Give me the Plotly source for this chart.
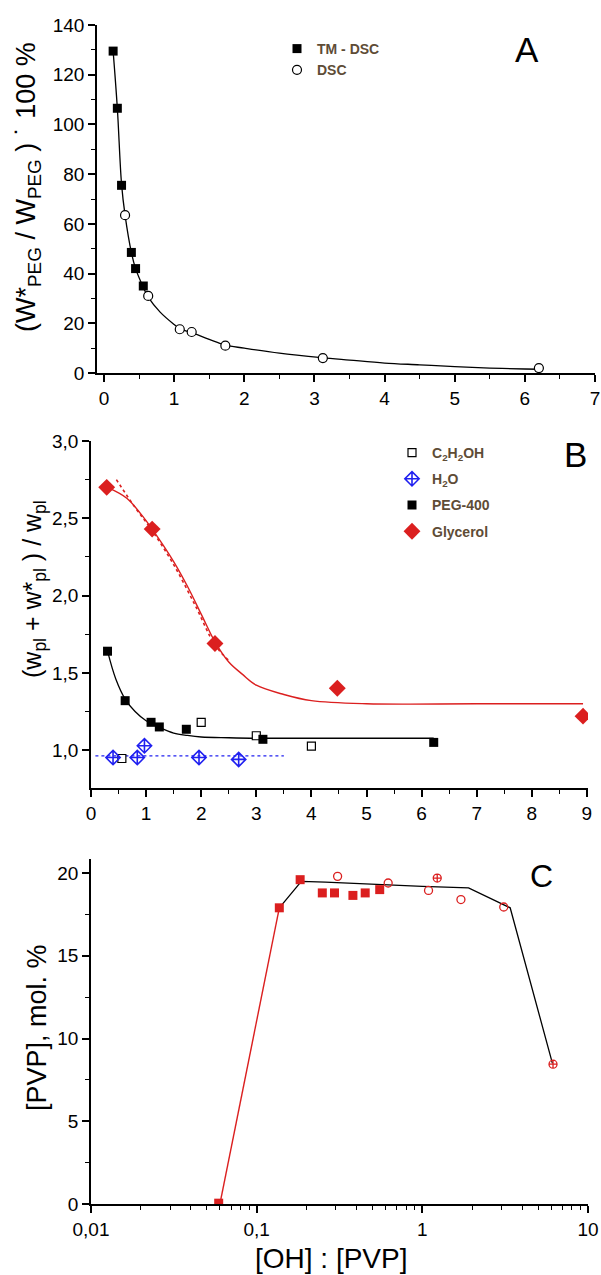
import plotly.graph_objects as go

# ---------------- Panel A data ----------------
a_tm_x = [0.13, 0.19, 0.25, 0.39, 0.45, 0.56]
a_tm_y = [129.5, 106.5, 75.5, 48.5, 42.0, 35.0]
a_dsc_x = [0.30, 0.63, 1.08, 1.25, 1.73, 3.12, 6.20]
a_dsc_y = [63.5, 31.0, 17.6, 16.5, 11.0, 6.0, 2.0]
a_fit_x = [0.13, 0.19, 0.25, 0.30, 0.39, 0.45, 0.56, 0.63, 0.80, 1.00, 1.08, 1.25, 1.50,
           1.73, 2.00, 2.50, 3.10, 3.50, 4.00, 4.50, 5.00, 5.50, 6.00, 6.20]
a_fit_y = [129.5, 106.5, 76.0, 63.5, 48.5, 42.0, 34.5, 30.5, 24.5, 19.5, 17.8, 16.2, 13.5,
           11.2, 10.0, 8.0, 6.2, 5.2, 4.0, 3.3, 2.6, 2.0, 1.6, 1.5]

# ---------------- Panel B data ----------------
b_eth_x = [0.56, 2.00, 3.00, 4.00]
b_eth_y = [0.946, 1.18, 1.093, 1.026]
b_h2o_x = [0.40, 0.84, 0.97, 1.96, 2.68]
b_h2o_y = [0.952, 0.952, 1.028, 0.952, 0.940]
b_peg_x = [0.30, 0.62, 1.09, 1.24, 1.73, 3.12, 6.22]
b_peg_y = [1.64, 1.32, 1.18, 1.15, 1.135, 1.07, 1.05]
b_gly_x = [0.285, 1.11, 2.25, 4.47, 8.93]
b_gly_y = [2.70, 2.43, 1.69, 1.40, 1.22]

b_gly_fit_x = [0.30, 0.65, 0.90, 1.11, 1.50, 1.75, 2.00, 2.25, 2.50, 2.75, 3.00, 3.50,
               4.00, 5.00, 7.00, 8.93]
b_gly_fit_y = [2.70, 2.63, 2.53, 2.43, 2.22, 2.06, 1.88, 1.70, 1.57, 1.49, 1.42, 1.36,
               1.32, 1.30, 1.30, 1.30]
b_gly_dot_x = [0.46, 0.80, 1.11, 1.50, 1.90, 2.25, 2.50]
b_gly_dot_y = [2.75, 2.57, 2.42, 2.20, 1.93, 1.68, 1.58]
b_peg_fit_x = [0.30, 0.45, 0.62, 0.80, 1.00, 1.25, 1.50, 1.75, 2.00, 2.50, 3.00, 4.00, 6.22]
b_peg_fit_y = [1.64, 1.46, 1.33, 1.25, 1.19, 1.145, 1.11, 1.095, 1.085, 1.08, 1.077, 1.077, 1.077]
b_h2o_fit_x = [0.08, 3.50]
b_h2o_fit_y = [0.963, 0.963]

# ---------------- Panel C data ----------------
c_sq_x = [0.059, 0.137, 0.183, 0.249, 0.295, 0.381, 0.452, 0.553]
c_sq_y = [0.05, 17.9, 19.6, 18.8, 18.8, 18.65, 18.8, 19.0]
c_ci_x = [0.308, 0.622, 1.09, 1.71, 3.10]
c_ci_y = [19.8, 19.4, 18.95, 18.4, 17.95]
c_cx_x = [1.23, 6.15]
c_cx_y = [19.7, 8.45]
c_red_line_x = [0.060, 0.137]
c_red_line_y = [0.0, 17.9]
c_blk_line_x = [0.137, 0.186, 0.26, 0.45, 1.00, 1.90, 3.39, 6.10]
c_blk_line_y = [17.9, 19.5, 19.45, 19.33, 19.2, 19.1, 17.9, 8.5]

# tick labels
a_xticks = [0, 1, 2, 3, 4, 5, 6, 7]
a_yticks = [0, 20, 40, 60, 80, 100, 120, 140]
b_xticks = [0, 1, 2, 3, 4, 5, 6, 7, 8, 9]
b_yticks = [1.0, 1.5, 2.0, 2.5, 3.0]
b_yticktext = ["1,0", "1,5", "2,0", "2,5", "3,0"]
c_xticks = [0.01, 0.1, 1, 10]
c_xticktext = ["0,01", "0,1", "1", "10"]
c_yticks = [0, 5, 10, 15, 20]

RED = "#db1f1f"
BLUE = "#2020f0"
LEGTXT = "#5e4c36"
FONT = "Liberation Sans, Arial, sans-serif"
W, H = 601, 1275

fig = go.Figure()

# Panel A
fig.add_trace(go.Scatter(x=a_fit_x, y=a_fit_y, mode="lines", line=dict(color="black", width=1.3, shape="spline"),
                         showlegend=False, xaxis="x", yaxis="y"))
fig.add_trace(go.Scatter(x=a_tm_x, y=a_tm_y, mode="markers", name="TM - DSC",
                         marker=dict(symbol="square", size=9, color="black"),
                         xaxis="x", yaxis="y", legend="legend", legendgroup="a1"))
fig.add_trace(go.Scatter(x=a_dsc_x, y=a_dsc_y, mode="markers", name="DSC",
                         marker=dict(symbol="circle", size=9, color="white", line=dict(color="black", width=1.2)),
                         xaxis="x", yaxis="y", legend="legend", legendgroup="a2"))

# Panel B lines
fig.add_trace(go.Scatter(x=b_gly_fit_x, y=b_gly_fit_y, mode="lines", line=dict(color=RED, width=1.4, shape="spline"),
                         showlegend=False, xaxis="x2", yaxis="y2"))
fig.add_trace(go.Scatter(x=b_gly_dot_x, y=b_gly_dot_y, mode="lines", line=dict(color=RED, width=1.6, dash="dot", shape="spline"),
                         showlegend=False, xaxis="x2", yaxis="y2"))
fig.add_trace(go.Scatter(x=b_peg_fit_x, y=b_peg_fit_y, mode="lines", line=dict(color="black", width=1.3, shape="spline"),
                         showlegend=False, xaxis="x2", yaxis="y2"))
fig.add_trace(go.Scatter(x=b_h2o_fit_x, y=b_h2o_fit_y, mode="lines", line=dict(color=BLUE, width=1.4, dash="dot"),
                         showlegend=False, xaxis="x2", yaxis="y2"))
# Panel B markers
fig.add_trace(go.Scatter(x=b_eth_x, y=b_eth_y, mode="markers", name="C<sub>2</sub>H<sub>2</sub>OH",
                         marker=dict(symbol="square", size=8, color="white", line=dict(color="black", width=1.2)),
                         xaxis="x2", yaxis="y2", legend="legend2", legendgroup="b1"))
fig.add_trace(go.Scatter(x=b_h2o_x, y=b_h2o_y, mode="markers", name="H<sub>2</sub>O",
                         marker=dict(symbol="diamond-cross-open", size=11, color=BLUE, line=dict(color=BLUE, width=1.6)),
                         xaxis="x2", yaxis="y2", legend="legend2", legendgroup="b2"))
fig.add_trace(go.Scatter(x=b_peg_x, y=b_peg_y, mode="markers", name="PEG-400",
                         marker=dict(symbol="square", size=9, color="black"),
                         xaxis="x2", yaxis="y2", legend="legend2", legendgroup="b3"))
fig.add_trace(go.Scatter(x=b_gly_x, y=b_gly_y, mode="markers", name="Glycerol",
                         marker=dict(symbol="diamond", size=13, color=RED),
                         xaxis="x2", yaxis="y2", legend="legend2", legendgroup="b4"))

# Panel C
fig.add_trace(go.Scatter(x=c_red_line_x, y=c_red_line_y, mode="lines", line=dict(color=RED, width=1.4),
                         showlegend=False, xaxis="x3", yaxis="y3"))
fig.add_trace(go.Scatter(x=c_blk_line_x, y=c_blk_line_y, mode="lines", line=dict(color="black", width=1.3),
                         showlegend=False, xaxis="x3", yaxis="y3"))
fig.add_trace(go.Scatter(x=c_sq_x, y=c_sq_y, mode="markers",
                         marker=dict(symbol="square", size=9, color=RED),
                         showlegend=False, xaxis="x3", yaxis="y3"))
fig.add_trace(go.Scatter(x=c_ci_x, y=c_ci_y, mode="markers",
                         marker=dict(symbol="circle-open", size=8, color=RED, line=dict(color=RED, width=1.3)),
                         showlegend=False, xaxis="x3", yaxis="y3"))
fig.add_trace(go.Scatter(x=c_cx_x, y=c_cx_y, mode="markers",
                         marker=dict(symbol="circle-cross-open", size=8, color=RED, line=dict(color=RED, width=1.3)),
                         showlegend=False, xaxis="x3", yaxis="y3"))


def px_x(p):
    return p / W


def px_y(p):
    return 1 - p / H


axis_common = dict(showline=True, linecolor="black", linewidth=1.6, ticks="outside", ticklen=7,
                   tickwidth=1.5, tickcolor="black", showgrid=False, zeroline=False,
                   tickfont=dict(family=FONT, size=19, color="black"), automargin=False)

fig.update_layout(
    width=W, height=H, margin=dict(l=0, r=0, t=0, b=0),
    paper_bgcolor="white", plot_bgcolor="white",
    font=dict(family=FONT, color="black"),
    xaxis=dict(domain=[px_x(97), px_x(595)], range=[-0.1, 7.0], anchor="y",
               tickvals=a_xticks, minor=dict(dtick=0.5, ticks="outside", ticklen=4, tickwidth=1.3, tickcolor="black"),
               **axis_common),
    yaxis=dict(domain=[px_y(373), px_y(25)], range=[0, 140], anchor="x",
               tickvals=a_yticks, minor=dict(dtick=10, ticks="outside", ticklen=4, tickwidth=1.3, tickcolor="black"),
               **axis_common),
    xaxis2=dict(domain=[px_x(91), px_x(588)], range=[0, 9.02], anchor="y2",
                tickvals=b_xticks, minor=dict(dtick=0.5, ticks="outside", ticklen=4, tickwidth=1.3, tickcolor="black"),
                **axis_common),
    yaxis2=dict(domain=[px_y(788), px_y(441)], range=[0.755, 3.0], anchor="x2",
                tickvals=b_yticks, ticktext=b_yticktext,
                minor=dict(tickvals=[1.25, 1.75, 2.25, 2.75], ticks="outside", ticklen=4, tickwidth=1.3, tickcolor="black"),
                **axis_common),
    xaxis3=dict(domain=[px_x(91), px_x(588)], type="log", range=[-2, 1.0], anchor="y3",
                tickvals=c_xticks, ticktext=c_xticktext,
                minor=dict(dtick="D1", ticks="outside", ticklen=4, tickwidth=1.3, tickcolor="black"),
                **axis_common),
    yaxis3=dict(domain=[px_y(1204), px_y(859)], range=[0, 20.85], anchor="x3",
                tickvals=c_yticks, minor=dict(dtick=2.5, ticks="outside", ticklen=4, tickwidth=1.3, tickcolor="black"),
                **axis_common),
    legend=dict(x=px_x(277), y=px_y(33), xanchor="left", yanchor="top", bgcolor="rgba(0,0,0,0)",
                font=dict(family=FONT, size=14, color=LEGTXT, weight="bold"), tracegroupgap=0, itemclick=False),
    legend2=dict(x=px_x(392), y=px_y(437), xanchor="left", yanchor="top", bgcolor="rgba(0,0,0,0)",
                 font=dict(family=FONT, size=14, color=LEGTXT, weight="bold"), tracegroupgap=5, itemclick=False),
    annotations=[
        dict(text="(W*<sub>PEG</sub> / W<sub>PEG</sub> ) \u02d9 100 %", x=px_x(28), y=px_y(187), xref="paper", yref="paper",
             textangle=-90, showarrow=False, xanchor="center", yanchor="middle",
             font=dict(family=FONT, size=27, color="black")),
        dict(text="(w<sub>pl</sub> + w*<sub>pl</sub> ) / w<sub>pl</sub>", x=px_x(34), y=px_y(589), xref="paper", yref="paper",
             textangle=-90, showarrow=False, xanchor="center", yanchor="middle",
             font=dict(family=FONT, size=25, color="black")),
        dict(text="[PVP], mol. %", x=px_x(37), y=px_y(1028), xref="paper", yref="paper",
             textangle=-90, showarrow=False, xanchor="center", yanchor="middle",
             font=dict(family=FONT, size=27, color="black")),
        dict(text="[OH] : [PVP]", x=px_x(331), y=px_y(1258), xref="paper", yref="paper",
             showarrow=False, xanchor="center", yanchor="middle",
             font=dict(family=FONT, size=28, color="black")),
        dict(text="A", x=px_x(527), y=px_y(50), xref="paper", yref="paper", showarrow=False,
             xanchor="center", yanchor="middle", font=dict(family=FONT, size=35, color="black")),
        dict(text="B", x=px_x(575), y=px_y(454), xref="paper", yref="paper", showarrow=False,
             xanchor="center", yanchor="middle", font=dict(family=FONT, size=35, color="black")),
        dict(text="C", x=px_x(541), y=px_y(876), xref="paper", yref="paper", showarrow=False,
             xanchor="center", yanchor="middle", font=dict(family=FONT, size=32, color="black")),
    ],
)

fig.write_html("out.html")
